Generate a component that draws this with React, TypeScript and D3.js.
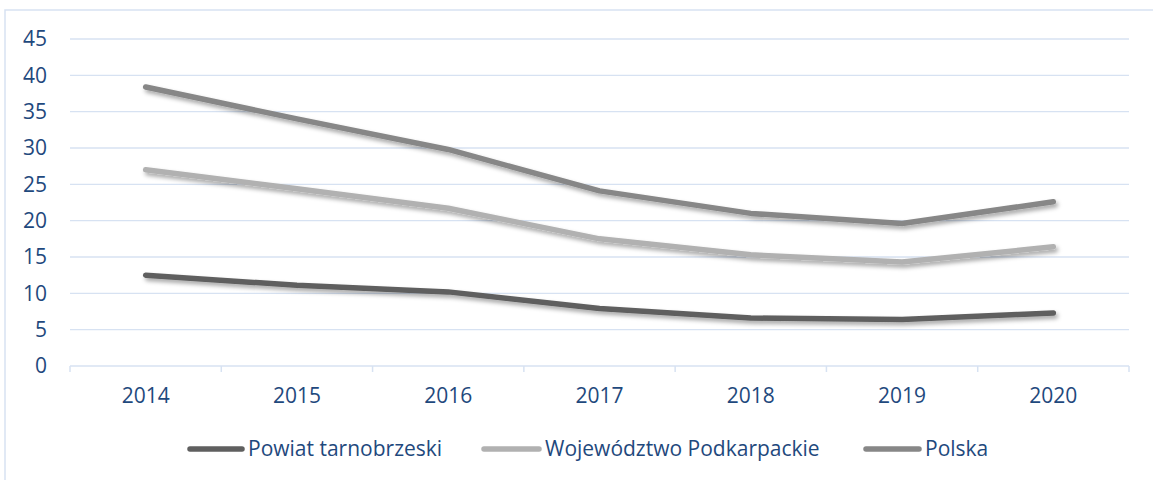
import React from "react";
import * as d3 from "d3";

const years = ["2014", "2015", "2016", "2017", "2018", "2019", "2020"];
const powiat = [12.5, 11.1, 10.2, 7.9, 6.6, 6.4, 7.3];
const wojewodztwo = [27.0, 24.4, 21.7, 17.5, 15.3, 14.3, 16.4];
const polska = [38.4, 34.0, 29.8, 24.1, 21.0, 19.6, 22.6];
const yTicks = [0, 5, 10, 15, 20, 25, 30, 35, 40, 45];
const seriesNames = ["Powiat tarnobrzeski", "Województwo Podkarpackie", "Polska"];

const series = [
  { name: seriesNames[0], values: powiat, color: "#5f5f5f" },
  { name: seriesNames[1], values: wojewodztwo, color: "#b1b1b1" },
  { name: seriesNames[2], values: polska, color: "#878787" },
];

const W = 1153;
const H = 480;
const left = 70;
const right = 1129;
const top = 39;
const bottom = 366;
const textColor = "#1f497d";
const gridColor = "#d7e2f2";
const font = "'Open Sans', 'Noto Sans', sans-serif";
const fs = 21;

export default function App() {
  const x = d3.scaleBand<string>().domain(years).range([left, right]);
  const y = d3.scaleLinear().domain([0, 45]).range([bottom, top]);
  const line = d3
    .line<number>()
    .x((_, i) => (x(years[i]) as number) + x.bandwidth() / 2)
    .y((d) => y(d));

  const legendItems = [
    { lx: 190, tx: 248 },
    { lx: 484, tx: 545 },
    { lx: 866, tx: 925 },
  ];

  return (
    <svg
      width={W}
      height={H}
      style={{ position: "absolute", left: 0, top: 0, background: "#fff" }}
      fontFamily={font}
    >
      <defs>
        <filter id="shadow" x="-10%" y="-30%" width="120%" height="160%">
          <feDropShadow dx="2" dy="3" stdDeviation="2" floodColor="#000" floodOpacity="0.35" />
        </filter>
      </defs>
      <rect x={5} y={10} width={1200} height={500} fill="#fff" stroke={gridColor} strokeWidth={1.5} />
      {yTicks.map((t) => (
        <g key={t}>
          {t > 0 && (
            <line x1={left} x2={right} y1={y(t)} y2={y(t)} stroke={gridColor} strokeWidth={1.3} />
          )}
          <text
            x={47}
            y={y(t)}
            dy="0.35em"
            textAnchor="end"
            fontSize={fs}
            fill={textColor}
          >
            {t}
          </text>
        </g>
      ))}
      <line x1={left} x2={right} y1={bottom} y2={bottom} stroke={gridColor} strokeWidth={1.5} />
      {years.map((yr) => (
        <line
          key={"tk" + yr}
          x1={x(yr) as number}
          x2={x(yr) as number}
          y1={bottom}
          y2={bottom + 6}
          stroke={gridColor}
          strokeWidth={1.5}
        />
      ))}
      <line x1={right} x2={right} y1={bottom} y2={bottom + 6} stroke={gridColor} strokeWidth={1.5} />
      {years.map((yr) => (
        <text
          key={"xl" + yr}
          x={(x(yr) as number) + x.bandwidth() / 2}
          y={396}
          dy="0.35em"
          textAnchor="middle"
          fontSize={fs}
          fill={textColor}
        >
          {yr}
        </text>
      ))}
      {series.map((s) => (
        <path
          key={s.name}
          d={line(s.values) as string}
          fill="none"
          stroke={s.color}
          strokeWidth={5.5}
          strokeLinecap="round"
          strokeLinejoin="round"
          filter="url(#shadow)"
        />
      ))}
      {series.map((s, i) => (
        <g key={"lg" + s.name}>
          <line
            x1={legendItems[i].lx}
            x2={legendItems[i].tx - 6}
            y1={449}
            y2={449}
            stroke={s.color}
            strokeWidth={5.5}
            strokeLinecap="round"
          />
          <text x={legendItems[i].tx} y={449} dy="0.35em" fontSize={fs} fill={textColor}>
            {s.name}
          </text>
        </g>
      ))}
    </svg>
  );
}
